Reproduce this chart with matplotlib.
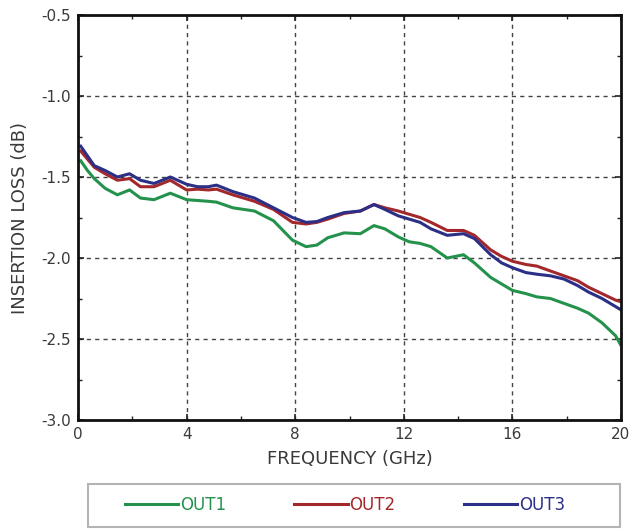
import matplotlib
matplotlib.use("Agg")
import matplotlib.pyplot as plt
from matplotlib.ticker import MultipleLocator, FormatStrFormatter
from matplotlib.patches import Rectangle

plt.rcParams['font.family'] = ['DejaVu Sans']

freq = [0.1, 0.35, 0.6, 1.0, 1.45, 1.9, 2.3, 2.8, 3.4, 4.0, 4.4, 4.8, 5.1, 5.7, 6.5, 7.2,
        7.9, 8.4, 8.8, 9.2, 9.8, 10.4, 10.9, 11.3, 11.8, 12.2, 12.6, 13.0, 13.6, 14.2,
        14.6, 15.2, 15.6, 16.0, 16.5, 16.9, 17.4, 17.9, 18.4, 18.8, 19.3, 19.8, 20.0]

out1 = [-1.40, -1.46, -1.51, -1.57, -1.61, -1.58, -1.63, -1.64, -1.60, -1.64, -1.645,
        -1.65, -1.655, -1.69, -1.71, -1.77, -1.89, -1.93, -1.92, -1.875, -1.845, -1.85,
        -1.80, -1.82, -1.87, -1.90, -1.91, -1.93, -2.00, -1.98, -2.03, -2.12, -2.16,
        -2.20, -2.22, -2.24, -2.25, -2.28, -2.31, -2.34, -2.40, -2.48, -2.54]

out2 = [-1.34, -1.39, -1.44, -1.48, -1.52, -1.51, -1.56, -1.56, -1.52, -1.58, -1.575,
        -1.58, -1.575, -1.61, -1.65, -1.70, -1.78, -1.79, -1.78, -1.76, -1.725, -1.71,
        -1.67, -1.69, -1.71, -1.73, -1.75, -1.78, -1.83, -1.83, -1.86, -1.95, -1.99,
        -2.02, -2.04, -2.05, -2.08, -2.11, -2.14, -2.18, -2.22, -2.26, -2.27]

out3 = [-1.31, -1.37, -1.43, -1.46, -1.50, -1.48, -1.52, -1.54, -1.50, -1.545, -1.56,
        -1.56, -1.55, -1.59, -1.63, -1.69, -1.75, -1.78, -1.775, -1.75, -1.72, -1.71,
        -1.67, -1.70, -1.74, -1.76, -1.78, -1.82, -1.86, -1.85, -1.88, -1.98, -2.03,
        -2.06, -2.09, -2.10, -2.11, -2.13, -2.17, -2.21, -2.25, -2.30, -2.32]

labels = ['OUT1', 'OUT2', 'OUT3']
colors = ['#24924c', '#a3282c', '#2b2f86']

W, H = 632, 529
fig = plt.figure(figsize=(W / 100, H / 100), dpi=100)
ax = fig.add_axes([78 / W, 1 - 420 / H, (621 - 78) / W, (420 - 15) / H])

lines = []
for ys, lab, c in zip([out1, out2, out3], labels, colors):
    ln, = ax.plot(freq, ys, color=c, lw=2.2, label=lab)
    lines.append(ln)

ax.set_xlim(0, 20)
ax.set_ylim(-3.0, -0.5)
ax.xaxis.set_major_locator(MultipleLocator(4))
ax.xaxis.set_minor_locator(MultipleLocator(2))
ax.yaxis.set_major_locator(MultipleLocator(0.5))
ax.yaxis.set_minor_locator(MultipleLocator(0.25))
ax.yaxis.set_major_formatter(FormatStrFormatter('%.1f'))

ax.grid(True, which='major', color='#444444', linestyle=(0, (3, 3)), lw=1.0)
ax.tick_params(which='both', direction='in', top=True, right=True, colors='#222222',
               labelcolor='#3a3a3a', labelsize=11)
ax.tick_params(which='major', length=4, width=1.2, pad=5)
ax.tick_params(which='minor', length=3, width=1.0)
for s in ax.spines.values():
    s.set_linewidth(2.0)
    s.set_color('#111111')

ax.set_xlabel('FREQUENCY (GHz)', fontsize=13, color='#3a3a3a', labelpad=6)
ax.set_ylabel('INSERTION LOSS (dB)', fontsize=13, color='#3a3a3a', labelpad=9)

# legend frame (fixed size box below the axes)
fig.patches.append(Rectangle((88 / W, 1 - 527 / H), (620 - 88) / W, (527 - 484) / H,
                             transform=fig.transFigure, fill=False,
                             edgecolor='#b4b4b4', lw=1.5))
leg = fig.legend(handles=lines, loc='center', bbox_to_anchor=(345 / W, 1 - 505 / H),
                 ncol=3, fontsize=12, frameon=False, handlelength=3.2,
                 handletextpad=0.1, columnspacing=4.1)
for t, c in zip(leg.get_texts(), colors):
    t.set_color(c)

fig.savefig('out.png', dpi=100)
